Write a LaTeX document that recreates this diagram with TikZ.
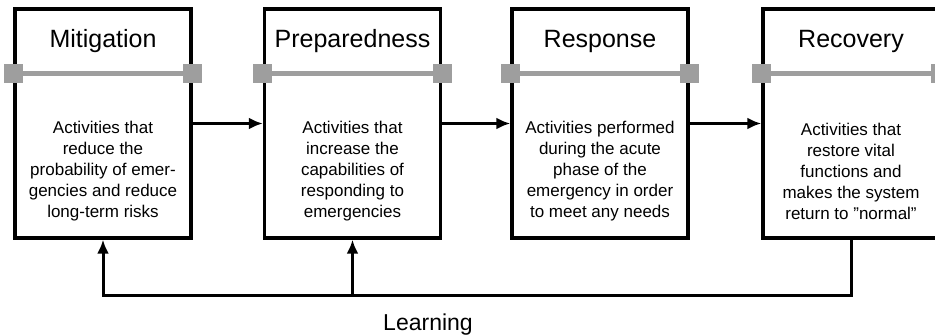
\documentclass[tikz,border=0pt]{standalone}
\usepackage{fontspec}
\setmainfont{Liberation Sans}
\usetikzlibrary{arrows.meta,calc}
\definecolor{bargray}{RGB}{158,158,158}
\tikzset{
  phase/.style={draw=black, line width=3.3pt, minimum width=176pt, minimum height=229pt, inner sep=0pt},
  ttl/.style={anchor=base, font=\fontsize{25}{30}\selectfont, inner sep=0pt},
  body/.style={align=center, font=\fontsize{17}{21}\selectfont, inner sep=0pt},
  bar/.style={draw=bargray, line width=5pt},
  sq/.style={fill=bargray, minimum size=19pt, inner sep=0pt},
  arr/.style={line width=3pt, -{Latex[length=14pt,width=12pt]}},
}
\begin{document}
\begin{tikzpicture}[x=1pt,y=-1pt]
\useasboundingbox (0,0) rectangle (935,335);
\clip (0,0) rectangle (935,335);
% boxes
\node[phase] (b1) at (103,123.5) {};
\node[phase] (b2) at (352.5,123.5) {};
\node[phase] (b3) at (600,123.5) {};
\node[phase] (b4) at (851,123.5) {};
% titles
\node[ttl] (t1) at (103,47) {Mitigation};
\node[ttl] (t2) at (352.5,47) {Preparedness};
\node[ttl] (t3) at (600,47) {Response};
\node[ttl] (t4) at (851,47) {Recovery};
% grey bars
\foreach \b in {b1,b2,b3,b4}{
  \coordinate (\b L) at (\b.west |- 0,73);
  \coordinate (\b R) at (\b.east |- 0,73);
  \draw[bar] (\b L) -- (\b R);
  \node[sq] at (\b L) {};
  \node[sq] at (\b R) {};
}
% body texts
\node[body] (x1) at (103,171) {Activities that\\reduce the\\probability of emer-\\gencies and reduce\\long-term risks};
\node[body] (x2) at (352.5,171) {Activities that\\increase the\\capabilities of\\responding to\\emergencies};
\node[body] (x3) at (600,171) {Activities performed\\during the acute\\phase of the\\emergency in order\\to meet any needs};
\node[body] (x4) at (851,171) {Activities that\\restore vital\\functions and\\makes the system\\return to "normal"};
% forward arrows
\draw[arr] (b1.east) -- (b2.west);
\draw[arr] (b2.east) -- (b3.west);
\draw[arr] (b3.east) -- (b4.west);
% feedback
\coordinate (fr) at (b4.south |- 0,295);
\coordinate (fm) at (b2.south |- 0,295);
\draw[arr] (b4.south) -- (fr) -| (b1.south);
\draw[arr] (fm) -- (b2.south);
\node[anchor=base, font=\fontsize{23}{28}\selectfont, inner sep=0pt] (lrn) at (428,330) {Learning};
\end{tikzpicture}
\end{document}
